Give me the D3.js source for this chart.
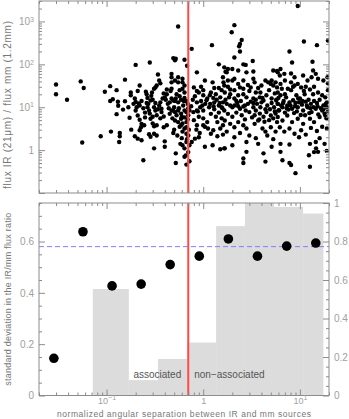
<!DOCTYPE html>
<html>
<head>
<meta charset="utf-8">
<script src="https://cdn.jsdelivr.net/npm/d3@7"></script>
<style>
body { margin: 0; background: #fff; }
svg { display: block; }
text { font-family: "Liberation Sans", Arial, sans-serif; }
</style>
</head>
<body>
<div id="chart"></div>
<script>
// scatter: [normalized separation, flux IR / flux mm]
const sepRatio = [
  [0.030,34],[0.030,20],[0.039,15],[0.054,40],[0.058,28],[0.056,1.5],[0.096,23],[0.109,31],[0.127,25],[0.109,14],
  [0.116,15.4],[0.131,13.4],[0.132,10.8],[0.127,6.9],[0.111,2.7],[0.087,2.1],[0.227,3.4],
  [0.155,44],[0.20,97],[0.28,110],[0.49,140],[0.155,13.8],[0.148,8.8],[0.168,10],[0.173,5.7],[0.178,22],
  [0.178,19],[0.196,16],[0.20,13.2],[0.205,10],[0.20,8.4],[0.22,32],[0.215,12.2],[0.22,11],[0.21,6.4],[0.22,5.1],
  [0.18,3.0],[0.137,2.5],[0.137,2.1],[0.135,1.55],[0.196,2.1],[0.21,1.85],[0.23,1.7],[0.22,2.9],[0.23,4.1],[0.245,3.8],
  [0.24,0.58],[0.255,23],[0.265,16.5],[0.26,12.5],[0.265,10],[0.275,8.4],[0.28,7.1],[0.285,14.4],[0.29,18.4],[0.295,22],
  [0.31,27],[0.32,29],[0.33,32],[0.34,58],[0.35,42],[0.36,36],[0.31,10],[0.32,8.4],[0.33,6.5],[0.35,11],
  [0.37,9.2],[0.37,7.7],[0.39,6.1],[0.40,17],[0.41,15],[0.43,12],[0.285,5.4],[0.30,4.2],[0.31,3.6],[0.33,3.8],
  [0.39,3.4],[0.42,3.8],[0.275,2.35],[0.285,2.05],[0.31,2.4],[0.33,2.2],[0.31,1.1],[0.40,1.6],[0.40,1.2],[0.47,60],
  [0.47,38],[0.46,24],[0.49,14.4],[0.49,8.4],[0.49,2.5],
  [0.19,12],[0.23,14],[0.24,9.5],[0.25,7.5],[0.27,12],[0.3,15],[0.32,12.5],[0.34,9],[0.36,13],[0.38,16],
  [0.39,21],[0.42,26],[0.44,9.5],[0.45,7],[0.36,5.5],[0.3,6],[0.25,5.8],[0.42,20],[0.26,20],[0.21,24],
  [0.55,760],[0.76,230],[1.23,280],[0.52,135],[0.51,125],[0.64,128],[0.68,93],[1.45,100],[0.86,65],[0.47,50],
  [0.51,42],[0.55,50],[0.61,46],[0.55,38],[0.61,38],[0.64,32],[0.47,27],[0.57,25],[0.64,22],[0.61,27],
  [0.8,29],[1.04,42],[0.9,22],[0.86,24],[1.0,19],[1.25,38],[1.3,28],[1.45,28],[1.55,25],[1.65,32],
  [1.6,50],[1.7,67],[0.47,16],[0.51,14],[0.55,13],[0.59,15],[0.64,16.5],[0.67,14],[0.47,8.4],[0.51,7.7],
  [0.55,8.4],[0.59,7.1],[0.64,8.4],[0.67,7.7],[0.72,8.4],[0.79,7.7],[0.86,8.4],[0.86,13],[0.93,10],[1.0,8.4],
  [1.1,16],[1.17,19],[1.27,16.5],[1.3,13],[1.45,11],[1.55,10],[1.65,8.4],[0.51,4.9],[0.55,4.5],[0.59,5.4],
  [0.61,4.2],[0.64,5.8],[0.67,4.5],[0.59,3.8],[0.64,3.2],[0.61,2.7],[0.67,3.4],[0.67,2.4],[0.86,3.8],[1.0,3.8],
  [1.04,3.5],[1.12,3.2],[1.27,2.9],[1.5,3.2],[1.6,3.8],[0.82,1.85],[0.9,2.0],[0.76,1.55],[0.61,1.3],[0.67,1.55],
  [0.64,1.1],[1.04,1.2],[1.25,1.3],[1.5,1.05],[1.65,1.1],[0.52,0.84],[0.52,0.5],[0.67,0.46],[0.64,0.7],
  [0.69,12],[0.7,9.5],[0.7,6.5],[0.69,5.2],[0.71,3],[0.7,2.2],[0.68,1.8],[0.72,1.3],[0.7,0.9],[0.72,0.55],
  [0.66,0.75],[0.53,20],[0.57,18],[0.62,11],[0.5,10],[0.56,9.5],[0.6,6],[0.53,6.5],[0.48,5.5],[0.57,3.5],
  [0.5,3],[0.54,2.2],[0.6,1.9],[0.58,1.4],[0.78,15],[0.82,18],[0.95,14],[1.05,12],[1.15,10],[1.2,7],
  [0.9,6],[0.8,5],[1.0,5.5],[1.1,4.5],[1.35,6],[1.4,4.5],[1.55,5.5],[1.6,13],[1.2,22],[0.95,30],
  [1.35,20],[1.5,17],[0.85,3],[1.2,2.4],[1.4,2.1],[0.92,2.5],[1.6,2.3],[1.3,9],[1.45,7.5],
  [2.1,820],[1.97,560],[2.5,370],[2.4,300],[2.35,265],[2.4,200],[2.1,145],[2.6,100],[2.75,97],[3.25,120],
  [1.65,85],[1.8,78],[2.0,78],[2.3,72],[1.75,65],[2.8,65],[3.3,68],[5.3,72],[5.8,70],[1.62,38],
  [1.8,42],[2.0,42],[2.1,46],[2.3,35],[2.4,29],[2.6,42],[3.3,46],[3.4,38],[3.1,29],[4.4,42],
  [4.7,38],[5.0,35],[5.3,32],[5.8,29],[5.1,42],[1.67,22],[1.9,20],[2.1,25],[2.3,19],[2.6,20],
  [2.8,17],[3.3,16],[3.5,22],[3.85,17],[4.2,14.4],[4.5,19],[5.1,16],[5.7,14.4],[1.75,12],[2.0,10],
  [2.1,11],[2.4,9.2],[2.6,10.4],[2.75,8.4],[3.0,7.7],[3.3,10],[3.5,8.4],[3.85,7.1],[4.2,6],[4.5,7.7],
  [5.0,6.4],[5.6,7.1],[6.0,8.4],[1.67,4.9],[1.9,4.1],[2.1,3.4],[2.3,4.5],[2.6,3.8],[2.8,3.2],[3.4,4.1],
  [3.7,4.9],[4.1,3.2],[4.4,2.7],[5.0,3.4],[5.6,2.7],[1.67,1.1],[2.0,1.3],[2.1,2.0],[2.8,1.55],[3.7,1.4],
  [4.2,0.84],[5.1,1.2],[2.8,0.91],[2.6,0.64],[2.6,0.5],[4.4,0.54],
  [1.7,15],[1.85,17],[2.2,14],[2.25,12.5],[2.45,14],[2.9,12],[3.1,13.5],[3.6,12],[3.9,10],[4.0,13],
  [4.6,11],[4.9,9],[5.4,10],[5.9,12],[1.8,7],[2.0,6],[2.2,7.5],[2.5,6.5],[2.7,5.2],[3.2,5.8],
  [3.4,6.5],[3.8,5.2],[4.3,4.6],[4.8,5],[5.3,5.5],[5.8,4.5],[1.9,26],[2.6,27],[3.0,24],[3.7,28],
  [4.8,25],[5.5,21],[4.0,32],[2.9,33],[1.75,2.7],[2.4,2.5],[3.0,2.2],[3.5,1.9],[4.6,2.2],[5.3,1.8],
  [9.5,2300],[11,340],[15,280],[19.5,360],[7.8,200],[8.3,110],[13.5,115],[19.5,36],[6.3,78],[5.9,65],
  [6.2,55],[6.9,60],[8.1,61],[8.8,50],[10.8,55],[12,42],[13.2,50],[14.6,60],[15.4,46],[13.7,72],
  [5.6,38],[6.3,35],[7.0,42],[8.1,38],[8.8,32],[9.5,35],[10.3,29],[5.9,22],[6.3,19],[7.0,20],
  [8.1,25],[9.2,19],[10,16],[11.2,20],[12.7,26],[13.7,20],[15.4,22],[17,19],[18.3,17],[19.5,25],
  [19,13],[5.9,12],[6.6,10],[7.4,11],[8.3,9.2],[9.5,10],[10.8,8.4],[12,10],[13.2,7.7],[14.6,9.2],
  [17,8.4],[18,7.1],[5.9,5.9],[6.6,4.9],[7.4,6.4],[8.3,4.5],[9.5,5.4],[10.8,4.1],[12.7,5.4],[14,4.5],
  [16,5.9],[18.3,6.4],[6.2,3.4],[6.9,2.7],[7.8,3.2],[8.8,2.4],[10.3,2.9],[11.5,2.3],[14.6,1.55],[18,1.4],
  [6.3,1.4],[7.8,1.35],[12.7,1.4],[19,0.96],[6.3,0.91],[6.6,0.58],[7.8,0.5],[8.1,0.45],[12.4,0.76],[12.7,0.41],
  [15.4,0.91],[9.0,0.29],[14,0.9],[14.7,1.1],
  [5.7,15],[6.0,16.5],[6.8,14],[7.2,17],[7.8,13],[8.5,14.5],[9.0,12.5],[9.8,13],[10.5,11.5],[11.5,13.5],
  [12.3,15],[13.0,12],[14,14],[15,12.5],[16,15],[17.5,11],[19,10],[6.1,8.5],[7.0,7.5],[7.6,8.8],
  [8.7,7.3],[9.3,8],[10.2,6.6],[11.3,6.5],[12.5,7.3],[15.5,6.8],[17.5,9],[18.8,5.5],[19.5,8],[6.5,27],
  [8.5,30],[11,24],[14,30],[17.5,42],[19.3,50],[13,3.3],[15,2.8],[17,3.5],[19,3.2],[9.8,2],[16,1.9],
  [0.45,13],[0.52,16],[0.63,14],[0.75,10.5],[0.88,8],[0.98,11],[1.08,14.5],[1.18,12],[1.28,10.5],[1.38,15],
  [1.48,12.5],[1.58,9.5],[1.9,11],[2.1,16],[2.3,10.5],[2.7,11],[3.3,12.5],[3.5,15],[4.1,16.5],[4.4,9],
  [5.1,12.5],[5.5,8],[6.4,11],[6.7,12.5],[7.3,9.5],[8.0,11],[8.9,10.5],[9.6,16],[10.6,14],[11.8,11],
  [12.8,9.5],[13.8,10],[15.2,10.5],[16.5,9.5],[18.5,12],[1.0,25],[1.8,30],[3.9,22],[7.5,27],[11.5,30]
];

// binned standard deviation (left axis)
const binSep = [0.0285, 0.057, 0.114, 0.228, 0.455, 0.91, 1.82, 3.64, 7.3, 14.6];
const binSd = [0.145, 0.638, 0.427, 0.434, 0.51, 0.543, 0.61, 0.543, 0.582, 0.594];

// grey histogram (right axis)
const histEdges = [0.072, 0.17, 0.34, 0.68, 1.36, 2.7, 5.4, 10.8, 17.5];
const histFrac = [0.553, 0.08, 0.19, 0.275, 0.88, 1.0, 0.98, 0.945];

const cutSep = 0.7;
const meanSd = 0.58;

const yTopLabels = [1, 10, 100, 1000];
const yLeftMajor = [0, 0.2, 0.4, 0.6];
const yRightMajor = [0, 0.2, 0.4, 0.6, 0.8, 1];

const width = 349, height = 419;
const left = 39, right = 329;
const top1 = 1, bot1 = 193;
const top2 = 203, bot2 = 395.5;

const frameC = "#8c8c8c";
const tickC = "#a0a0a0";
const titleC = "#777";

const x = d3.scaleLog().domain([0.02, 20]).range([left, right]);
const yTop = d3.scaleLog().domain([0.1, 3000]).range([bot1, top1]);
const yL = d3.scaleLinear().domain([0, 0.75]).range([bot2, top2]);
const yR = d3.scaleLinear().domain([0, 1]).range([bot2, top2]);

function logTicks(scale) {
    const [lo, hi] = scale.domain();
    const major = [], minor = [];
    for (let e = Math.floor(Math.log10(lo)); e <= Math.ceil(Math.log10(hi)); e++) {
        for (let m = 1; m < 10; m++) {
            const v = +(m * Math.pow(10, e)).toPrecision(6);
            if (v < lo * 0.999 || v > hi * 1.001) continue;
            (m === 1 ? major : minor).push(v);
        }
    }
    return {major, minor};
}

function linMinor(hi, step, majors) {
    return d3.range(0, hi + 1e-9, step).map(v => +v.toFixed(3)).filter(v => !majors.some(m => Math.abs(m - v) < 1e-6));
}

const svg = d3.select("#chart").append("svg")
    .attr("width", width)
    .attr("height", height);

svg.append("defs").append("clipPath").attr("id", "clipTop")
    .append("rect").attr("x", left).attr("y", top1).attr("width", right - left).attr("height", bot1 - top1);

function drawAxis(g, axisFn, scale, values, size, fmt, pad) {
    g.call(axisFn(scale).tickValues(values).tickSize(size).tickPadding(pad || 5).tickFormat(fmt || (() => "")));
    g.select(".domain").remove();
    g.selectAll(".tick line").attr("stroke", frameC);
    g.selectAll(".tick text").attr("fill", tickC).attr("font-size", 10);
    return g;
}

function powerLabels(g) {
    g.selectAll(".tick text").each(function (d) {
        const e = Math.round(Math.log10(d));
        const t = d3.select(this).text(null);
        if (e === 0) { t.text("1"); return; }
        t.append("tspan").text("10");
        t.append("tspan").attr("dy", "-0.5em").attr("font-size", 7).text(e < 0 ? "\u2212" + (-e) : e);
    });
}

// ---------- top panel ----------
const xt = logTicks(x);
const yt = logTicks(yTop);

svg.append("g").attr("clip-path", "url(#clipTop)")
    .selectAll("circle")
    .data(sepRatio)
    .join("circle")
    .attr("cx", d => x(d[0]))
    .attr("cy", d => yTop(d[1]))
    .attr("r", 2.2)
    .attr("fill", "#000");

svg.append("line")
    .attr("x1", x(cutSep)).attr("x2", x(cutSep))
    .attr("y1", top1).attr("y2", bot1)
    .attr("stroke", "#ff4a4a").attr("stroke-width", 2);

svg.append("rect")
    .attr("x", left).attr("y", top1).attr("width", right - left).attr("height", bot1 - top1)
    .attr("fill", "none").attr("stroke", frameC);

drawAxis(svg.append("g").attr("transform", `translate(0,${bot1})`), d3.axisBottom, x, xt.major, -6);
drawAxis(svg.append("g").attr("transform", `translate(0,${bot1})`), d3.axisBottom, x, xt.minor, -3);
drawAxis(svg.append("g").attr("transform", `translate(0,${top1})`), d3.axisTop, x, xt.major, -6);
drawAxis(svg.append("g").attr("transform", `translate(0,${top1})`), d3.axisTop, x, xt.minor, -3);
drawAxis(svg.append("g").attr("transform", `translate(${left},0)`), d3.axisLeft, yTop, yt.major, -6);
const yTopAxis = drawAxis(svg.append("g").attr("transform", `translate(${left},0)`), d3.axisLeft, yTop, yTopLabels, 0, d => d);
powerLabels(yTopAxis);
drawAxis(svg.append("g").attr("transform", `translate(${left},0)`), d3.axisLeft, yTop, yt.minor, -3);
drawAxis(svg.append("g").attr("transform", `translate(${right},0)`), d3.axisRight, yTop, yt.major, -6);
drawAxis(svg.append("g").attr("transform", `translate(${right},0)`), d3.axisRight, yTop, yt.minor, -3);

svg.append("text")
    .attr("transform", `translate(11,${(top1 + bot1) / 2 + 8}) rotate(-90)`)
    .attr("text-anchor", "middle")
    .attr("font-size", 10)
    .attr("fill", titleC)
    .attr("textLength", 168).attr("lengthAdjust", "spacing")
    .text("flux IR (21\u03bcm) / flux mm (1.2mm)");

// ---------- bottom panel ----------
svg.append("g")
    .selectAll("rect")
    .data(histFrac)
    .join("rect")
    .attr("x", (d, i) => x(histEdges[i]))
    .attr("width", (d, i) => x(histEdges[i + 1]) - x(histEdges[i]))
    .attr("y", d => yR(d))
    .attr("height", d => bot2 - yR(d))
    .attr("fill", "#dcdcdc");

svg.append("line")
    .attr("x1", left).attr("x2", right)
    .attr("y1", yL(meanSd)).attr("y2", yL(meanSd))
    .attr("stroke", "#8080f0").attr("stroke-width", 1)
    .attr("stroke-dasharray", "5,3");

svg.append("line")
    .attr("x1", x(cutSep)).attr("x2", x(cutSep))
    .attr("y1", top2).attr("y2", bot2)
    .attr("stroke", "#ff4a4a").attr("stroke-width", 2);

svg.append("g")
    .selectAll("circle")
    .data(binSd)
    .join("circle")
    .attr("cx", (d, i) => x(binSep[i]))
    .attr("cy", d => yL(d))
    .attr("r", 4.8)
    .attr("fill", "#000");

svg.append("text")
    .attr("x", x(cutSep) - 7).attr("y", 378)
    .attr("text-anchor", "end").attr("font-size", 10).attr("fill", "#555")
    .text("associated");
svg.append("text")
    .attr("x", x(cutSep) + 6).attr("y", 378)
    .attr("text-anchor", "start").attr("font-size", 10).attr("fill", "#555")
    .text("non\u2212associated");

svg.append("rect")
    .attr("x", left).attr("y", top2).attr("width", right - left).attr("height", bot2 - top2)
    .attr("fill", "none").attr("stroke", frameC);

drawAxis(svg.append("g").attr("transform", `translate(0,${bot2})`), d3.axisBottom, x, xt.major, -6);
const xb = drawAxis(svg.append("g").attr("transform", `translate(0,${bot2})`), d3.axisBottom, x, xt.major, 0, d => d, 2);
xb.selectAll(".tick text").attr("font-size", 9);
powerLabels(xb);
drawAxis(svg.append("g").attr("transform", `translate(0,${bot2})`), d3.axisBottom, x, xt.minor, -3);
drawAxis(svg.append("g").attr("transform", `translate(0,${top2})`), d3.axisTop, x, xt.major, -6);
drawAxis(svg.append("g").attr("transform", `translate(0,${top2})`), d3.axisTop, x, xt.minor, -3);

drawAxis(svg.append("g").attr("transform", `translate(${left},0)`), d3.axisLeft, yL, yLeftMajor, -6, d => d === 0 ? "0" : d3.format(".1f")(d));
drawAxis(svg.append("g").attr("transform", `translate(${left},0)`), d3.axisLeft, yL, linMinor(0.75, 0.05, yLeftMajor), -3);
drawAxis(svg.append("g").attr("transform", `translate(${right},0)`), d3.axisRight, yR, yRightMajor, -6, d => (d === 0 || d === 1) ? String(d) : d3.format(".1f")(d));
drawAxis(svg.append("g").attr("transform", `translate(${right},0)`), d3.axisRight, yR, linMinor(1, 0.05, yRightMajor), -3);

svg.append("text")
    .attr("transform", `translate(11,${(top2 + bot2) / 2}) rotate(-90)`)
    .attr("text-anchor", "middle")
    .attr("font-size", 9)
    .attr("fill", titleC)
    .attr("textLength", 173).attr("lengthAdjust", "spacing")
    .text("standard deviation in the IR/mm flux ratio");

svg.append("text")
    .attr("x", (left + right) / 2).attr("y", 417)
    .attr("text-anchor", "middle")
    .attr("font-size", 8.5)
    .attr("fill", titleC)
    .attr("textLength", 254).attr("lengthAdjust", "spacing")
    .text("normalized angular separation between IR and mm sources");
</script>
</body>
</html>
